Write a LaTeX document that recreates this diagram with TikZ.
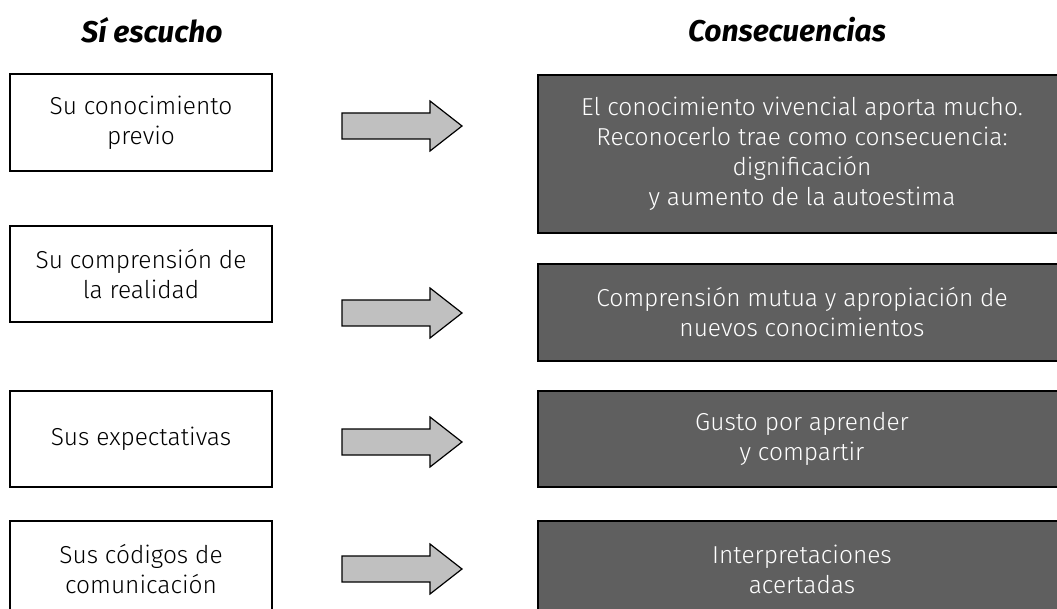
\documentclass[tikz,border=0pt]{standalone}
\usepackage{fontspec}
\setmainfont{Fira Sans Light}[BoldFont=Fira Sans Bold, BoldItalicFont=Fira Sans Bold Italic]
\definecolor{darkbox}{HTML}{5F5F5F}
\definecolor{arrowgray}{HTML}{C0C0C0}
\begin{document}
\begin{tikzpicture}[x=1pt,y=-1pt,
  leftbox/.style={draw=black, line width=1.8pt, fill=white, minimum width=262pt, align=center, font=\fontsize{24.5}{30}\selectfont, inner sep=0pt},
  rightbox/.style={draw=black, line width=1.8pt, fill=darkbox, text=white, minimum width=528pt, align=center, font=\fontsize{24.5}{30}\selectfont, inner sep=0pt},
  blockarrow/.style={draw=black, line width=1.2pt, fill=arrowgray, line join=miter},
  heading/.style={font=\fontsize{30}{34}\selectfont\bfseries\itshape}]
\useasboundingbox (0,0) rectangle (1057,609);
\node[heading] (h1) at (152,30) {Sí escucho};
\node[heading] (h2) at (787,30) {Consecuencias};
% left boxes
\node[leftbox, minimum height=97pt] (l1) at (141,122.5) {Su conocimiento\\previo};
\node[leftbox, minimum height=96pt] (l2) at (141,274) {Su comprensión de\\la realidad};
\node[leftbox, minimum height=96pt] (l3) at (141,439) {Sus expectativas};
\node[leftbox, minimum height=96pt] (l4) at (141,569) {Sus códigos de\\comunicación};
% right boxes
\node[rightbox, minimum height=158pt] (r1) at (802,154) {El conocimiento vivencial aporta mucho.\\Reconocerlo trae como consecuencia:\\dignificación\\y aumento de la autoestima};
\node[rightbox, minimum height=97pt] (r2) at (802,312.5) {Comprensión mutua y apropiación de\\nuevos conocimientos};
\node[rightbox, minimum height=96pt] (r3) at (802,439) {Gusto por aprender\\y compartir};
\node[rightbox, minimum height=96pt] (r4) at (802,569) {Interpretaciones\\acertadas};
% block arrows
\foreach \cy/\nm in {126/a1,313/a2,442/a3,569/a4}{
  \coordinate (\nm) at (342,\cy);
  \draw[blockarrow] (342,\cy-13) -- ++(88,0) -- ++(0,-12) -- ++(32,25) -- ++(-32,25) -- ++(0,-12) -- ++(-88,0) -- cycle;
}
\end{tikzpicture}
\end{document}
